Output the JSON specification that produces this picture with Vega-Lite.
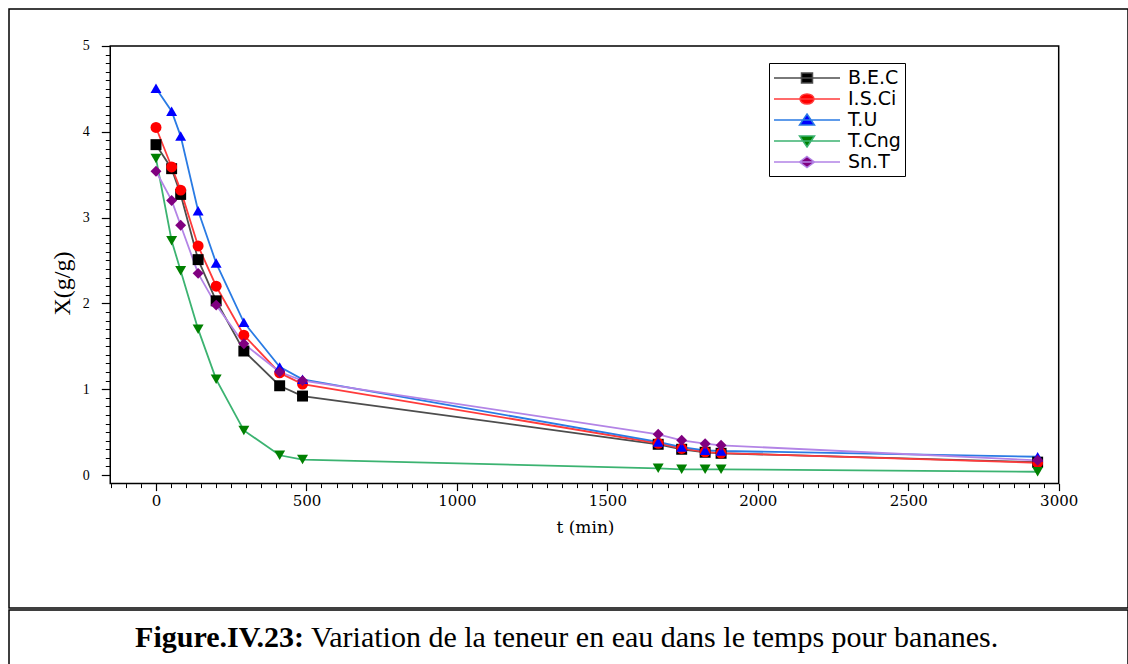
{
  "$schema": "https://vega.github.io/schema/vega-lite/v6.json",
  "background": "white",
  "padding": {"left": 8, "top": 8, "right": 0, "bottom": 0},
  "config": {
    "view": {"stroke": "black", "strokeWidth": 1.5},
    "concat": {"spacing": 0}
  },
  "datasets": {
    "drying": [
      {"series": "B.E.C", "t": 0, "X": 3.85},
      {"series": "B.E.C", "t": 52, "X": 3.57},
      {"series": "B.E.C", "t": 82, "X": 3.27},
      {"series": "B.E.C", "t": 140, "X": 2.51},
      {"series": "B.E.C", "t": 200, "X": 2.03},
      {"series": "B.E.C", "t": 292, "X": 1.445},
      {"series": "B.E.C", "t": 411, "X": 1.04},
      {"series": "B.E.C", "t": 487, "X": 0.92},
      {"series": "B.E.C", "t": 1669, "X": 0.358},
      {"series": "B.E.C", "t": 1747, "X": 0.30},
      {"series": "B.E.C", "t": 1825, "X": 0.265},
      {"series": "B.E.C", "t": 1878, "X": 0.253},
      {"series": "B.E.C", "t": 2930, "X": 0.15},
      {"series": "I.S.Ci", "t": 0, "X": 4.05},
      {"series": "I.S.Ci", "t": 52, "X": 3.59},
      {"series": "I.S.Ci", "t": 82, "X": 3.32},
      {"series": "I.S.Ci", "t": 140, "X": 2.67},
      {"series": "I.S.Ci", "t": 200, "X": 2.20},
      {"series": "I.S.Ci", "t": 292, "X": 1.63},
      {"series": "I.S.Ci", "t": 411, "X": 1.19},
      {"series": "I.S.Ci", "t": 487, "X": 1.06},
      {"series": "I.S.Ci", "t": 1669, "X": 0.37},
      {"series": "I.S.Ci", "t": 1747, "X": 0.31},
      {"series": "I.S.Ci", "t": 1825, "X": 0.27},
      {"series": "I.S.Ci", "t": 1878, "X": 0.256},
      {"series": "I.S.Ci", "t": 2930, "X": 0.143},
      {"series": "T.U", "t": 0, "X": 4.507},
      {"series": "T.U", "t": 52, "X": 4.24},
      {"series": "T.U", "t": 82, "X": 3.95},
      {"series": "T.U", "t": 140, "X": 3.08},
      {"series": "T.U", "t": 200, "X": 2.47},
      {"series": "T.U", "t": 292, "X": 1.78},
      {"series": "T.U", "t": 411, "X": 1.26},
      {"series": "T.U", "t": 487, "X": 1.115},
      {"series": "T.U", "t": 1669, "X": 0.385},
      {"series": "T.U", "t": 1747, "X": 0.326},
      {"series": "T.U", "t": 1825, "X": 0.288},
      {"series": "T.U", "t": 1878, "X": 0.28},
      {"series": "T.U", "t": 2930, "X": 0.213},
      {"series": "T.Cng", "t": 0, "X": 3.69},
      {"series": "T.Cng", "t": 52, "X": 2.73},
      {"series": "T.Cng", "t": 82, "X": 2.38},
      {"series": "T.Cng", "t": 140, "X": 1.70},
      {"series": "T.Cng", "t": 200, "X": 1.115},
      {"series": "T.Cng", "t": 292, "X": 0.52},
      {"series": "T.Cng", "t": 411, "X": 0.23},
      {"series": "T.Cng", "t": 487, "X": 0.18},
      {"series": "T.Cng", "t": 1669, "X": 0.078},
      {"series": "T.Cng", "t": 1747, "X": 0.066},
      {"series": "T.Cng", "t": 1825, "X": 0.066},
      {"series": "T.Cng", "t": 1878, "X": 0.066},
      {"series": "T.Cng", "t": 2930, "X": 0.038},
      {"series": "Sn.T", "t": 0, "X": 3.54},
      {"series": "Sn.T", "t": 52, "X": 3.20},
      {"series": "Sn.T", "t": 82, "X": 2.91},
      {"series": "Sn.T", "t": 140, "X": 2.35},
      {"series": "Sn.T", "t": 200, "X": 1.98},
      {"series": "Sn.T", "t": 292, "X": 1.53},
      {"series": "Sn.T", "t": 411, "X": 1.20},
      {"series": "Sn.T", "t": 487, "X": 1.10},
      {"series": "Sn.T", "t": 1669, "X": 0.474},
      {"series": "Sn.T", "t": 1747, "X": 0.404},
      {"series": "Sn.T", "t": 1825, "X": 0.365},
      {"series": "Sn.T", "t": 1878, "X": 0.346},
      {"series": "Sn.T", "t": 2930, "X": 0.171}
    ]
  },
  "vconcat": [
    {
      "width": 1119,
      "height": 599,
      "resolve": {
        "scale": {"fill": "independent", "stroke": "independent", "shape": "independent"},
        "axis": {"x": "independent", "y": "independent"}
      },
      "layer": [
        {
          "data": {"values": [{"frame": 1}]},
          "mark": {"type": "rect", "fill": "transparent", "stroke": "black", "strokeWidth": 1.5},
          "encoding": {
            "x": {"datum": -152, "type": "quantitative",
              "scale": {"domain": [-488.5, 3230.3], "nice": false, "zero": false},
              "axis": {"orient": "bottom", "offset": -124.4, "values": [0, 500, 1000, 1500, 2000, 2500, 3000], "format": "d",
                "domain": false, "grid": false, "tickSize": 7, "tickWidth": 1.2, "tickColor": "black",
                "labelFont": "DejaVu Serif", "labelFontSize": 15, "labelColor": "black", "labelPadding": 3, "labelFlush": false,
                "title": "t (min)", "titleFont": "DejaVu Serif", "titleFontSize": 17, "titleFontWeight": "normal", "titleColor": "black",
                "titleX": 576, "titleY": 44, "titleBaseline": "middle", "titleAnchor": "middle"}},
            "x2": {"datum": 3000},
            "y": {"datum": -0.1, "type": "quantitative",
              "scale": {"domain": [-1.55, 5.431], "nice": false, "zero": false},
              "axis": {"orient": "left", "offset": -101.3, "values": [0, 1, 2, 3, 4, 5], "format": "d",
                "domain": false, "grid": false, "tickSize": 9, "tickWidth": 1.2, "tickColor": "black",
                "labelFont": "Liberation Serif", "labelFontSize": 14, "labelColor": "black", "labelPadding": 12,
                "title": "X(g/g)", "titleFont": "Liberation Serif", "titleFontSize": 24, "titleFontWeight": "normal", "titleColor": "black",
                "titleX": -48, "titleY": 274, "titleBaseline": "middle", "titleAngle": -90}},
            "y2": {"datum": 5}
          }
        },
        {
          "data": {"name": "drying"},
          "mark": {"type": "line", "strokeWidth": 1.8},
          "encoding": {
            "x": {"field": "t", "type": "quantitative",
              "scale": {"domain": [-488.5, 3230.3], "nice": false, "zero": false},
              "axis": {"orient": "bottom", "offset": -124.4,
                "values": [-150, -100, -50, 0, 50, 100, 150, 200, 250, 300, 350, 400, 450, 500, 550, 600, 650, 700, 750, 800, 850, 900, 950, 1000, 1050, 1100, 1150, 1200, 1250, 1300, 1350, 1400, 1450, 1500, 1550, 1600, 1650, 1700, 1750, 1800, 1850, 1900, 1950, 2000, 2050, 2100, 2150, 2200, 2250, 2300, 2350, 2400, 2450, 2500, 2550, 2600, 2650, 2700, 2750, 2800, 2850, 2900, 2950, 3000],
                "domain": false, "grid": false, "labels": false, "title": null,
                "tickSize": 4, "tickWidth": 1, "tickColor": "black"}},
            "y": {"field": "X", "type": "quantitative",
              "scale": {"domain": [-1.55, 5.431], "nice": false, "zero": false},
              "axis": {"orient": "left", "offset": -101.3,
                "values": [0, 0.1, 0.2, 0.3, 0.4, 0.5, 0.6, 0.7, 0.8, 0.9, 1, 1.1, 1.2, 1.3, 1.4, 1.5, 1.6, 1.7, 1.8, 1.9, 2, 2.1, 2.2, 2.3, 2.4, 2.5, 2.6, 2.7, 2.8, 2.9, 3, 3.1, 3.2, 3.3, 3.4, 3.5, 3.6, 3.7, 3.8, 3.9, 4, 4.1, 4.2, 4.3, 4.4, 4.5, 4.6, 4.7, 4.8, 4.9, 5],
                "domain": false, "grid": false, "labels": false, "title": null,
                "tickSize": 5, "tickWidth": 1, "tickColor": "black"}},
            "stroke": {"field": "series", "type": "nominal",
              "scale": {"domain": ["B.E.C", "I.S.Ci", "T.U", "T.Cng", "Sn.T"], "range": ["#4d4d4d", "#ff3b3b", "#2a7be4", "#3cb371", "#b384e6"]},
              "legend": null}
          }
        },
        {
          "data": {"name": "drying"},
          "mark": {"type": "point", "filled": true, "opacity": 1, "size": 120},
          "encoding": {
            "x": {"field": "t", "type": "quantitative", "scale": {"domain": [-488.5, 3230.3], "nice": false, "zero": false}, "axis": null},
            "y": {"field": "X", "type": "quantitative", "scale": {"domain": [-1.55, 5.431], "nice": false, "zero": false}, "axis": null},
            "fill": {"field": "series", "type": "nominal",
              "scale": {"domain": ["B.E.C", "I.S.Ci", "T.U", "T.Cng", "Sn.T"], "range": ["#000000", "#ff0000", "#0000ff", "#008000", "#800080"]},
              "legend": null},
            "shape": {"field": "series", "type": "nominal",
              "scale": {"domain": ["B.E.C", "I.S.Ci", "T.U", "T.Cng", "Sn.T"], "range": ["square", "circle", "triangle-up", "triangle-down", "diamond"]},
              "legend": null}
          }
        },
        {
          "data": {"name": "drying"},
          "transform": [{"filter": "datum.t == 0"}],
          "mark": {"type": "point", "filled": true, "opacity": 0},
          "encoding": {
            "x": {"field": "t", "type": "quantitative", "scale": {"domain": [-488.5, 3230.3], "nice": false, "zero": false}, "axis": null},
            "y": {"field": "X", "type": "quantitative", "scale": {"domain": [-1.55, 5.431], "nice": false, "zero": false}, "axis": null},
            "fill": {"field": "series", "type": "nominal",
              "scale": {"domain": ["B.E.C", "I.S.Ci", "T.U", "T.Cng", "Sn.T"], "range": ["#000000", "#ff0000", "#0000ff", "#008000", "#800080"]},
              "legend": {"title": null, "orient": "none", "legendX": 760, "legendY": 54, "symbolSize": 400, "symbolStrokeWidth": 1.5, "symbolOpacity": 1,
                "labelFont": "DejaVu Sans", "labelFontSize": 19, "labelColor": "black", "labelOffset": 53, "rowPadding": -1, "padding": 4,
                "strokeColor": "black", "fillColor": "white"}},
            "stroke": {"field": "series", "type": "nominal",
              "scale": {"domain": ["B.E.C", "I.S.Ci", "T.U", "T.Cng", "Sn.T"], "range": ["#4d4d4d", "#ff3b3b", "#2a7be4", "#3cb371", "#b384e6"]},
              "legend": {"title": null, "orient": "none", "legendX": 760, "legendY": 54, "symbolSize": 400, "symbolStrokeWidth": 1.5, "symbolOpacity": 1,
                "labelFont": "DejaVu Sans", "labelFontSize": 19, "labelColor": "black", "labelOffset": 53, "rowPadding": -1, "padding": 4,
                "strokeColor": "black", "fillColor": "white"}},
            "shape": {"field": "series", "type": "nominal",
              "scale": {"domain": ["B.E.C", "I.S.Ci", "T.U", "T.Cng", "Sn.T"], "range": [
                "M-1,0H5.6M1.75,-0.5H2.85V0.5H1.75Z",
                "M-1,0H5.6M1.6,0A0.7,0.5,0,1,1,3.0,0A0.7,0.5,0,1,1,1.6,0Z",
                "M-1,0H5.6M2.3,-0.6L3.05,0.5H1.55Z",
                "M-1,0H5.6M2.3,0.6L3.05,-0.5H1.55Z",
                "M-1,0H5.6M2.3,-0.55L3.05,0L2.3,0.55L1.55,0Z"]},
              "legend": {"title": null, "orient": "none", "legendX": 760, "legendY": 54, "symbolSize": 400, "symbolStrokeWidth": 1.5, "symbolOpacity": 1,
                "labelFont": "DejaVu Sans", "labelFontSize": 19, "labelColor": "black", "labelOffset": 53, "rowPadding": -1, "padding": 4,
                "strokeColor": "black", "fillColor": "white"}}
          }
        }
      ]
    },
    {
      "width": 1119,
      "height": 56,
      "layer": [
        {
          "data": {"values": [{"caption": "Figure.IV.23:"}]},
          "mark": {"type": "text", "font": "Liberation Serif", "fontSize": 30, "fontWeight": "bold", "align": "right", "baseline": "middle", "color": "black"},
          "encoding": {
            "text": {"field": "caption"},
            "x": {"datum": 0.2636, "type": "quantitative", "scale": {"domain": [0, 1]}, "axis": null},
            "y": {"datum": 0.5, "type": "quantitative", "scale": {"domain": [0, 1]}, "axis": null}
          }
        },
        {
          "data": {"values": [{"caption": "Variation de la teneur en eau dans le temps pour bananes."}]},
          "mark": {"type": "text", "font": "Liberation Serif", "fontSize": 30, "fontWeight": "normal", "align": "left", "baseline": "middle", "dx": 7, "color": "black"},
          "encoding": {
            "text": {"field": "caption"},
            "x": {"datum": 0.2636, "type": "quantitative", "scale": {"domain": [0, 1]}, "axis": null},
            "y": {"datum": 0.5, "type": "quantitative", "scale": {"domain": [0, 1]}, "axis": null}
          }
        }
      ]
    }
  ]
}
